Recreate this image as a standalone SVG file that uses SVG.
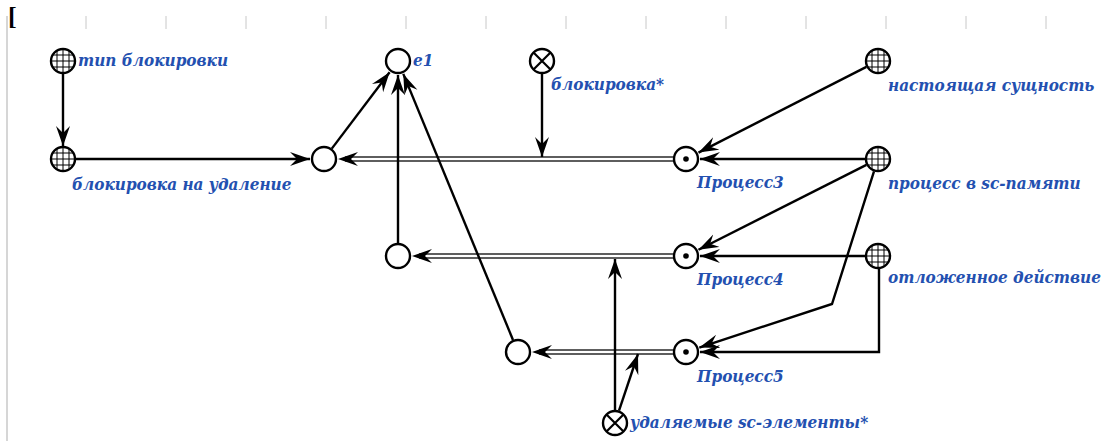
<svg xmlns="http://www.w3.org/2000/svg" width="1108" height="441" viewBox="0 0 1108 441">
<style>
.lbl{font-family:"DejaVu Serif Condensed","DejaVu Serif","Liberation Serif",serif;font-stretch:condensed;font-weight:bold;font-style:italic;font-size:17px;fill:#2350b0}
.node{fill:#fff;stroke:#000;stroke-width:2.4}
.grid{stroke:#000;stroke-width:1}
.edge{fill:none;stroke:#000;stroke-width:2.4}
.dbl{fill:none;stroke:#5e5e5e;stroke-width:6}
.dblin{fill:none;stroke:#fff;stroke-width:2}
.tick{stroke:#c8c8c8;stroke-width:1}
</style>
<defs>
<marker id="ah" markerUnits="userSpaceOnUse" markerWidth="22" markerHeight="16" refX="20" refY="7.5" orient="auto">
<path d="M0,0.5 L20,7.5 L0,14.5 L7,7.5 z" fill="#000"/>
</marker>
<clipPath id="cc"><circle cx="0" cy="0" r="11.5"/></clipPath>
<g id="gridnode">
<circle cx="0" cy="0" r="12" fill="#fff"/>
<g clip-path="url(#cc)" class="grid">
<line x1="-6" y1="-13" x2="-6" y2="13"/><line x1="0" y1="-13" x2="0" y2="13"/><line x1="6" y1="-13" x2="6" y2="13"/>
<line x1="-13" y1="-6" x2="13" y2="-6"/><line x1="-13" y1="0" x2="13" y2="0"/><line x1="-13" y1="6" x2="13" y2="6"/>
</g>
<circle cx="0" cy="0" r="12" fill="none" stroke="#000" stroke-width="2.4"/>
</g>
<g id="dotnode"><circle class="node" cx="0" cy="0" r="12"/><circle cx="0" cy="0" r="2.8" fill="#000"/></g>
<g id="crossnode"><circle class="node" cx="0" cy="0" r="12"/><path d="M-8.5,-8.5 L8.5,8.5 M8.5,-8.5 L-8.5,8.5" stroke="#000" stroke-width="2.2"/></g>
<g id="emptynode"><circle class="node" cx="0" cy="0" r="12"/></g>
</defs>
<rect width="1108" height="441" fill="#fff"/>
<g id="frame">
<line x1="7" y1="16" x2="7" y2="441" stroke="#c8c8c8" stroke-width="1.5"/>
<g class="tick">
<line x1="86" y1="16" x2="86" y2="29"/><line x1="166" y1="16" x2="166" y2="29"/><line x1="246" y1="16" x2="246" y2="29"/><line x1="326" y1="16" x2="326" y2="29"/><line x1="406" y1="16" x2="406" y2="29"/><line x1="486" y1="16" x2="486" y2="29"/><line x1="566" y1="16" x2="566" y2="29"/><line x1="646" y1="16" x2="646" y2="29"/><line x1="726" y1="16" x2="726" y2="29"/><line x1="806" y1="16" x2="806" y2="29"/><line x1="886" y1="16" x2="886" y2="29"/><line x1="966" y1="16" x2="966" y2="29"/><line x1="1046" y1="16" x2="1046" y2="29"/>
</g>
<text x="8" y="25" font-family="Liberation Serif,serif" font-weight="bold" font-size="26" fill="#000">[</text>
</g>
<g id="connectors">
<path class="dbl" d="M674,159 L345,159"/><path class="dblin" d="M674,159 L345,159"/>
<path class="dbl" d="M674,256 L419,256"/><path class="dblin" d="M674,256 L419,256"/>
<path class="dbl" d="M674,352 L539,352"/><path class="dblin" d="M674,352 L539,352"/>
<path marker-end="url(#ah)" d="M674,159 L338,159" fill="none" stroke="none"/>
<path marker-end="url(#ah)" d="M674,256 L412,256" fill="none" stroke="none"/>
<path marker-end="url(#ah)" d="M674,352 L532,352" fill="none" stroke="none"/>
<path class="edge" marker-end="url(#ah)" d="M63,74 L63,146"/>
<path class="edge" marker-end="url(#ah)" d="M76,159 L310,159"/>
<path class="edge" marker-end="url(#ah)" d="M331.8,148.6 L389.6,72.2"/>
<path class="edge" marker-end="url(#ah)" d="M398,243 L398,75"/>
<path class="edge" marker-end="url(#ah)" d="M513,340 L403.3,73.9"/>
<path class="edge" marker-end="url(#ah)" d="M542,74 L542,157"/>
<path class="edge" marker-end="url(#ah)" d="M866.4,66.9 L698.5,152.6"/>
<path class="edge" marker-end="url(#ah)" d="M865,159 L700,159"/>
<path class="edge" marker-end="url(#ah)" d="M866.4,164.9 L698.5,249.7"/>
<path class="edge" marker-end="url(#ah)" d="M874,171.4 L832,304 L699.3,347.6"/>
<path class="edge" marker-end="url(#ah)" d="M865,256 L700,256"/>
<path class="edge" marker-end="url(#ah)" d="M879,269 L879,352 L700,352"/>
<path class="edge" marker-end="url(#ah)" d="M615,410 L615,259"/>
<path class="edge" marker-end="url(#ah)" d="M619,410.7 L638,354"/>
</g>
<g id="n-tip"><use href="#gridnode" x="63" y="61"/><text class="lbl" x="78" y="66">тип блокировки</text></g>
<g id="n-blokud"><use href="#gridnode" x="63" y="159"/><text class="lbl" x="72" y="190">блокировка на удаление</text></g>
<g id="n-a"><use href="#emptynode" x="324" y="159"/></g>
<g id="n-e1"><use href="#emptynode" x="398" y="61"/><text class="lbl" x="413" y="66">e1</text></g>
<g id="n-blok"><use href="#crossnode" x="542" y="61"/><text class="lbl" x="551" y="90">блокировка*</text></g>
<g id="n-p3"><use href="#dotnode" x="686" y="159"/><text class="lbl" x="697" y="188">Процесс3</text></g>
<g id="n-nast"><use href="#gridnode" x="878" y="61"/><text class="lbl" x="888" y="91">настоящая сущность</text></g>
<g id="n-proc"><use href="#gridnode" x="878" y="159"/><text class="lbl" x="888" y="189">процесс в sc-памяти</text></g>
<g id="n-b"><use href="#emptynode" x="398" y="256"/></g>
<g id="n-p4"><use href="#dotnode" x="686" y="256"/><text class="lbl" x="697" y="285">Процесс4</text></g>
<g id="n-otl"><use href="#gridnode" x="878" y="256"/><text class="lbl" x="888" y="283">отложенное действие</text></g>
<g id="n-c"><use href="#emptynode" x="518" y="352"/></g>
<g id="n-p5"><use href="#dotnode" x="686" y="352"/><text class="lbl" x="697" y="382">Процесс5</text></g>
<g id="n-udal"><use href="#crossnode" x="615" y="423"/><text class="lbl" x="630" y="428">удаляемые sc-элементы*</text></g>
</svg>
